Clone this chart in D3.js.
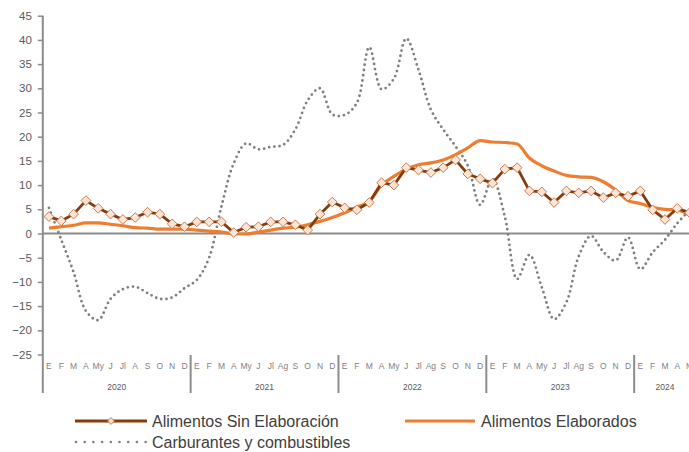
<!DOCTYPE html>
<html>
<head>
<meta charset="utf-8">
<script src="https://cdn.jsdelivr.net/npm/d3@7"></script>
<style>
  body { margin: 0; background: #fff; overflow: hidden; }
  svg { display: block; font-family: "Liberation Sans", Arial, sans-serif; }
</style>
</head>
<body>
<svg id="chart"></svg>
<script>
// months Jan 2020 .. May 2024
const monthLabels = [
  'E','F','M','A','My','J','Jl','A','S','O','N','D',
  'E','F','M','A','My','J','Jl','Ag','S','O','N','D',
  'E','F','M','A','My','J','Jl','Ag','S','O','N','D',
  'E','F','M','A','My','J','Jl','Ag','S','O','N','D',
  'E','F','M','A','M'
];
const years = ['2020', '2021', '2022', '2023', '2024'];
const monthsPerYear = [12, 12, 12, 12, 5];

const sinElaboracion = [
  3.5, 2.6, 4.0, 6.8, 5.2, 4.0, 2.9, 3.3, 4.4, 4.0, 2.0, 1.4,
  2.4, 2.4, 2.4, 0.2, 1.3, 1.4, 2.4, 2.4, 1.8, 0.7, 4.0, 6.5,
  5.3, 4.9, 6.4, 10.5, 10.0, 13.6, 13.1, 12.6, 13.6, 15.2, 12.3, 11.3,
  10.4, 13.3, 13.6, 8.8, 8.6, 6.4, 8.8, 8.4, 8.8, 7.4, 8.4, 7.7,
  8.8, 4.9, 2.9, 5.2, 4.3
];
const elaborados = [
  1.1, 1.4, 1.7, 2.2, 2.2, 1.9, 1.6, 1.2, 1.1, 0.9, 0.9, 0.9,
  0.7, 0.5, 0.3, -0.1, -0.1, 0.3, 0.7, 1.1, 1.3, 1.8, 2.5, 3.3,
  4.3, 5.5, 6.6, 10.0, 11.8, 13.3, 14.2, 14.6, 15.2, 16.3, 17.7, 19.2,
  18.9, 18.8, 18.5, 15.6, 14.0, 12.9, 12.0, 11.7, 11.6, 10.7, 9.0, 6.8,
  6.2, 5.4, 5.0, 4.9, 3.8
];
const carburantes = [
  5.3, -1.3, -8.0, -16.0, -17.9, -13.5, -11.5, -11.0, -12.3, -13.5, -13.2, -11.3,
  -9.6, -5.0, 5.6, 14.5, 18.6, 17.4, 17.9, 18.3, 21.5, 27.5, 30.0, 24.6,
  24.5, 27.0, 38.5, 29.8, 32.0, 40.3, 33.8, 25.6, 21.5, 18.0, 14.0, 5.9,
  11.3, 3.5, -9.4, -4.4, -11.1, -17.7, -14.2, -4.7, -0.5, -3.8, -5.6, -0.8,
  -7.4, -3.9, -1.3, 2.1, 4.8
];

const width = 689, height = 452;
const monthW = 12.32;
const x0 = 42.8;
const axisBottom = 393;

const svg = d3.select('#chart').attr('width', width).attr('height', height);

const idx = d3.range(monthLabels.length);
const x = d3.scaleBand().domain(idx).range([x0, x0 + monthLabels.length * monthW]).padding(0);
const cx = i => x(i) + x.bandwidth() / 2;
const y = d3.scaleLinear().domain([-25, 45]).range([354.5, 15.7]);

const axisColor = '#8c8c8c';

// y axis
const yAxis = svg.append('g')
  .attr('transform', `translate(${x0},0)`)
  .call(d3.axisLeft(y).tickValues(d3.range(-25, 50, 5)).tickSize(5).tickPadding(6));
yAxis.select('.domain').remove();
yAxis.selectAll('.tick line').attr('stroke', axisColor).attr('stroke-width', 1.5);
yAxis.selectAll('.tick text').attr('fill', '#595959').style('font-size', '11.5px');
svg.append('line')
  .attr('x1', x0).attr('x2', x0)
  .attr('y1', y(45)).attr('y2', axisBottom)
  .attr('stroke', axisColor).attr('stroke-width', 2);

// zero line
svg.append('line')
  .attr('x1', x0).attr('x2', width)
  .attr('y1', y(0)).attr('y2', y(0))
  .attr('stroke', axisColor).attr('stroke-width', 2);

// month labels
svg.append('g').selectAll('text')
  .data(idx)
  .join('text')
  .attr('x', i => cx(i))
  .attr('y', 369)
  .attr('text-anchor', 'middle')
  .attr('fill', '#7f7f7f')
  .style('font-size', '8.5px')
  .text(i => monthLabels[i]);

// year groups
let start = 0;
const groups = years.map((yr, k) => {
  const g = { year: yr, start: start, end: start + monthsPerYear[k] };
  start += monthsPerYear[k];
  return g;
});
svg.append('g').selectAll('line')
  .data(groups.slice(1))
  .join('line')
  .attr('x1', g => x(g.start)).attr('x2', g => x(g.start))
  .attr('y1', 355).attr('y2', axisBottom)
  .attr('stroke', axisColor).attr('stroke-width', 2);
svg.append('g').selectAll('text')
  .data(groups)
  .join('text')
  .attr('x', g => (x(g.start) + x(g.end - 1) + x.bandwidth()) / 2)
  .attr('y', 390)
  .attr('text-anchor', 'middle')
  .attr('fill', '#595959')
  .style('font-size', '8.5px')
  .text(g => g.year);

// series
const line = d3.line().x((d, i) => cx(i)).y(d => y(d));

svg.append('path')
  .datum(carburantes)
  .attr('d', line.curve(d3.curveCatmullRom.alpha(0.5)))
  .attr('fill', 'none')
  .attr('stroke', '#7f7f7f')
  .attr('stroke-width', 2.8)
  .attr('stroke-linecap', 'round')
  .attr('stroke-dasharray', '0 5.2');

svg.append('path')
  .datum(elaborados)
  .attr('d', line.curve(d3.curveMonotoneX))
  .attr('fill', 'none')
  .attr('stroke', '#ed7d31')
  .attr('stroke-width', 3.2)
  .attr('stroke-linejoin', 'round');

svg.append('path')
  .datum(sinElaboracion)
  .attr('d', line.curve(d3.curveLinear))
  .attr('fill', 'none')
  .attr('stroke', '#843c0c')
  .attr('stroke-width', 2.8)
  .attr('stroke-linejoin', 'round');

const diamond = d3.symbol().type(d3.symbolDiamond2).size(60);
svg.append('g').selectAll('path')
  .data(sinElaboracion)
  .join('path')
  .attr('transform', (d, i) => `translate(${cx(i)},${y(d)})`)
  .attr('d', diamond)
  .attr('fill', '#fbe5d6')
  .attr('stroke', '#c97a4a')
  .attr('stroke-width', 1);

// legend
const legend = svg.append('g').style('font-size', '16px').attr('fill', '#404040');

legend.append('line').attr('x1', 75).attr('x2', 147).attr('y1', 421).attr('y2', 421)
  .attr('stroke', '#843c0c').attr('stroke-width', 2.8);
legend.append('path').attr('transform', 'translate(111,421)').attr('d', d3.symbol().type(d3.symbolDiamond2).size(30))
  .attr('fill', '#fbe5d6').attr('stroke', '#c97a4a').attr('stroke-width', 1);
legend.append('text').attr('x', 152).attr('y', 427).text('Alimentos Sin Elaboración');

legend.append('line').attr('x1', 405).attr('x2', 475).attr('y1', 421).attr('y2', 421)
  .attr('stroke', '#ed7d31').attr('stroke-width', 3.2);
legend.append('text').attr('x', 481).attr('y', 427).text('Alimentos Elaborados');

legend.append('line').attr('x1', 76).attr('x2', 146).attr('y1', 442).attr('y2', 442)
  .attr('stroke', '#7f7f7f').attr('stroke-width', 2.6)
  .attr('stroke-linecap', 'round').attr('stroke-dasharray', '0 8.7');
legend.append('text').attr('x', 152).attr('y', 448).text('Carburantes y combustibles');
</script>
</body>
</html>
